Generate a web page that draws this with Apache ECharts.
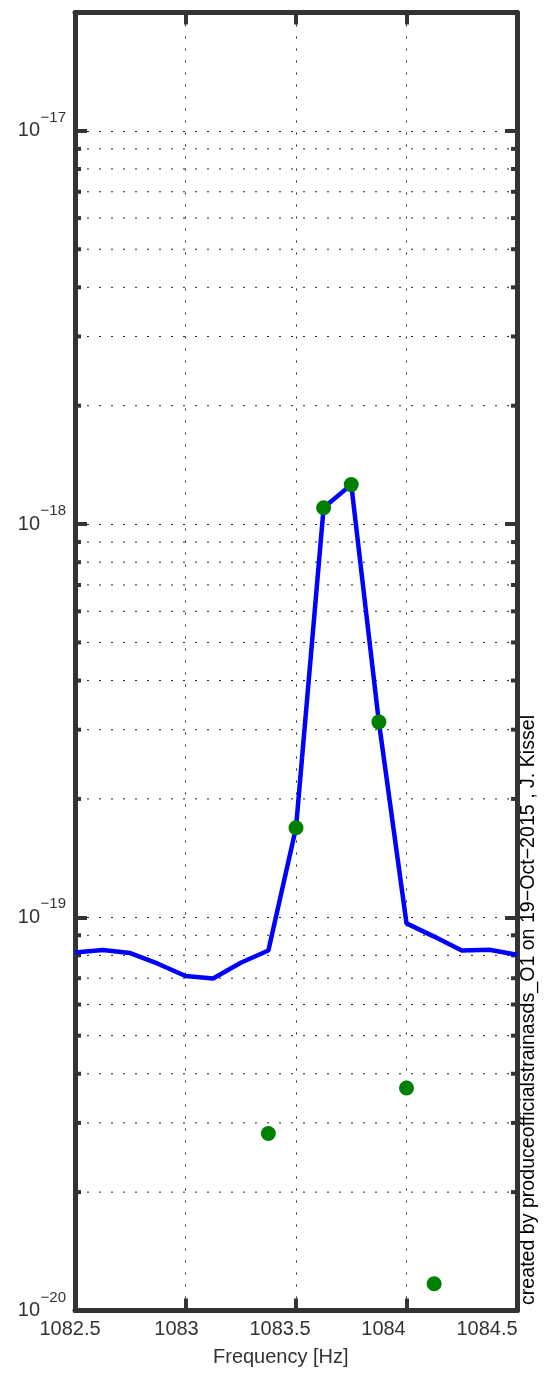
<!DOCTYPE html>
<html>
<head>
<meta charset="utf-8">
<script src="https://cdn.jsdelivr.net/npm/echarts@6/dist/echarts.min.js"></script>
<style>
html,body{margin:0;padding:0;background:#fff;}
#chart{width:554px;height:1374px;}
</style>
</head>
<body>
<div id="chart"></div>
<script>
// ---- data ----
var freqs = [1082.5, 1082.625, 1082.75, 1082.875, 1083.0, 1083.125, 1083.25, 1083.375, 1083.5,
             1083.625, 1083.75, 1083.875, 1084.0, 1084.125, 1084.25, 1084.375, 1084.5];
var asd = [8.14e-20, 8.26e-20, 8.11e-20, 7.62e-20, 7.09e-20, 6.99e-20, 7.66e-20, 8.23e-20, 1.69e-19,
           1.10e-18, 1.26e-18, 3.14e-19, 9.65e-20, 8.93e-20, 8.23e-20, 8.27e-20, 8.03e-20];
var lineFreqs = [1083.375, 1083.5, 1083.625, 1083.75, 1083.875, 1084.0, 1084.125];
var lineAmps = [2.82e-20, 1.69e-19, 1.10e-18, 1.26e-18, 3.14e-19, 3.68e-20, 1.17e-20];
var xTicks = [1082.5, 1083, 1083.5, 1084, 1084.5];
var xTickLabels = ['1082.5', '1083', '1083.5', '1084', '1084.5'];
var yDecades = [-20, -19, -18, -17];
var yMin = 1e-20, yMax = 2e-17;
var xMin = 1082.5, xMax = 1084.5;
var xLabel = 'Frequency [Hz]';
var stampText = 'created by produceofficialstrainasds_O1 on 19\u2212Oct\u22122015 , J. Kissel';

// layout: leftward shift (px) of each x tick label, as in the original rendering
var xLabelShift = [5, 9, 16, 23, 30];

// minor log tick values (2..9 x 10^n)
var minorVals = [];
yDecades.forEach(function (e) {
  for (var m = 2; m <= 9; m++) {
    var v = m * Math.pow(10, e);
    if (v < yMax * 0.999) minorVals.push([xMin, v]);
  }
});

var FONT = '"Liberation Sans", Arial, Helvetica, sans-serif';
var AX = '#333333';

function yLabelFmt(v) {
  var l = Math.log10(v);
  var e = Math.round(l);
  if (Math.abs(l - e) > 1e-6 || yDecades.indexOf(e) < 0) return '';
  return '{e|' + (e < 0 ? '\u2212' : '') + Math.abs(e) + '}\n{b|10}{sp|}';
}

var xRich = {};
xTicks.forEach(function (t, i) {
  xRich['p' + i] = {fontSize: 20, fontFamily: FONT, color: AX, padding: [0, 2 * xLabelShift[i], 0, 0]};
});
function xLabelFmt(v) {
  for (var i = 0; i < xTicks.length; i++) {
    if (Math.abs(v - xTicks[i]) < 1e-6) return '{p' + i + '|' + xTickLabels[i] + '}';
  }
  return '';
}

var chart = echarts.init(document.getElementById('chart'), null, {renderer: 'canvas'});

var option = {
  animation: false,
  backgroundColor: '#ffffff',
  grid: {left: 75, top: 12.5, width: 442, height: 1298, containLabel: false},
  xAxis: [{
    type: 'value', min: xMin, max: xMax, interval: 0.5, position: 'bottom',
    axisLine: {show: true, onZero: false, lineStyle: {color: AX, width: 5}},
    axisTick: {show: true, inside: true, length: 12, lineStyle: {color: AX, width: 4}},
    axisLabel: {show: true, margin: 9, color: AX, fontSize: 20, fontFamily: FONT,
      formatter: xLabelFmt, rich: xRich},
    splitLine: {show: true, lineStyle: {color: '#222', width: 1, type: [2, 10]}}
  }, {
    type: 'value', min: xMin, max: xMax, interval: 0.5, position: 'top',
    axisLine: {show: true, onZero: false, lineStyle: {color: AX, width: 5}},
    axisTick: {show: true, inside: true, length: 12, lineStyle: {color: AX, width: 4}},
    axisLabel: {show: false}, splitLine: {show: false}
  }],
  yAxis: [{
    type: 'log', logBase: 10, min: yMin, max: yMax, position: 'left',
    axisLine: {show: true, onZero: false, lineStyle: {color: AX, width: 5}},
    axisTick: {show: true, inside: true, length: 12, lineStyle: {color: AX, width: 4}},
    axisLabel: {show: true, margin: 9, color: AX, fontFamily: FONT, formatter: yLabelFmt,
      align: 'right', padding: [0, 0, 6, 0],
      rich: {
        e: {fontSize: 15, fontFamily: FONT, color: AX, lineHeight: 6, width: 26, align: 'right'},
        b: {fontSize: 20, fontFamily: FONT, color: AX, lineHeight: 20, align: 'left'},
        sp: {fontSize: 20, fontFamily: FONT, lineHeight: 20, width: 26, align: 'left'}
      }},
    splitLine: {show: true, lineStyle: {color: '#222', width: 1, type: [2, 10]}}
  }, {
    type: 'log', logBase: 10, min: yMin, max: yMax, position: 'right',
    axisLine: {show: true, onZero: false, lineStyle: {color: AX, width: 5}},
    axisTick: {show: true, inside: true, length: 12, lineStyle: {color: AX, width: 4}},
    axisLabel: {show: false}, splitLine: {show: false}
  }],
  series: [{
    type: 'custom', z: 1, silent: true,
    data: minorVals,
    renderItem: function (params, api) {
      var cs = params.coordSys;
      var y = api.coord([api.value(0), api.value(1)])[1];
      return {
        type: 'group',
        children: [
          {type: 'line', shape: {x1: cs.x, y1: y, x2: cs.x + cs.width, y2: y},
           style: {stroke: '#222', lineWidth: 1, lineDash: [2, 10]}},
          {type: 'line', shape: {x1: cs.x, y1: y, x2: cs.x + 6, y2: y},
           style: {stroke: AX, lineWidth: 4}},
          {type: 'line', shape: {x1: cs.x + cs.width - 6, y1: y, x2: cs.x + cs.width, y2: y},
           style: {stroke: AX, lineWidth: 4}}
        ]
      };
    }
  }, {
    type: 'line', z: 3, showSymbol: false, silent: true,
    data: freqs.map(function (f, i) { return [f, asd[i]]; }),
    lineStyle: {color: '#0000ff', width: 4.5}
  }, {
    type: 'scatter', z: 4, silent: true, symbol: 'circle', symbolSize: 15,
    data: lineFreqs.map(function (f, i) { return [f, lineAmps[i]]; }),
    itemStyle: {color: '#008000', opacity: 1}
  }],
  graphic: [{
    type: 'text', x: 213, y: 1347,
    style: {text: xLabel, font: '20px ' + FONT, fill: AX}
  }, {
    type: 'text', x: 529, y: 1010, rotation: Math.PI / 2,
    style: {text: stampText, font: '19.6px ' + FONT, fill: '#000', align: 'center', verticalAlign: 'middle'}
  }]
};
chart.setOption(option);
</script>
</body>
</html>
